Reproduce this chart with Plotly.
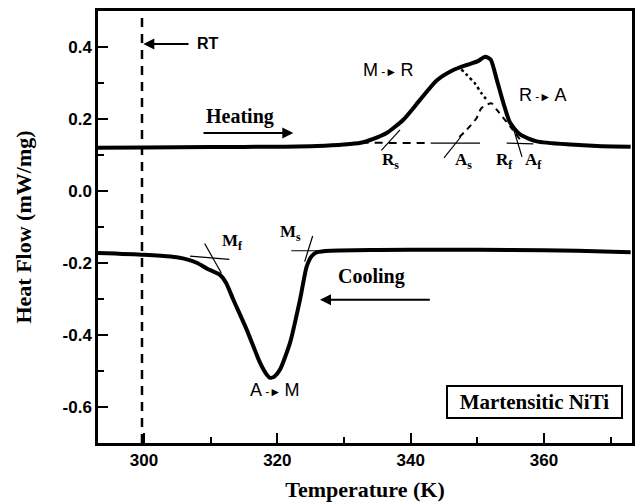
import plotly.graph_objects as go

# ---- data ----
heat_T = [293, 300, 310, 320, 326, 330, 332.5, 334.4, 336.4, 338.9, 341.4, 343.9,
          346.4, 348.4, 350.0, 351.2, 352.0, 352.9, 353.9, 354.9, 356.4, 358.9,
          364, 368, 373]
heat_Q = [0.120, 0.121, 0.122, 0.123, 0.125, 0.129, 0.134, 0.145, 0.161, 0.198, 0.253, 0.307,
          0.336, 0.350, 0.360, 0.373, 0.365, 0.310, 0.245, 0.190, 0.157, 0.138,
          0.129, 0.125, 0.123]

cool_T = [293, 300, 304, 306, 308, 309.4, 311.4, 312.3, 313.4, 315.4, 317.4, 318.4,
          318.9, 319.6, 320.4, 321.9, 323.4, 324.4, 325.2, 326, 328, 335, 345,
          355, 365, 373]
cool_Q = [-0.172, -0.177, -0.182, -0.188, -0.200, -0.215, -0.233, -0.255, -0.302, -0.385,
          -0.477, -0.510, -0.519, -0.515, -0.496, -0.422, -0.302, -0.210, -0.180, -0.170,
          -0.166, -0.164, -0.163, -0.164, -0.166, -0.170]

# deconvolution / construction lines
dotted_T = [347.6, 348.4, 349.6, 350.6, 351.6]
dotted_Q = [0.338, 0.323, 0.300, 0.272, 0.249]
apeak_T = [347.3, 348.4, 349.9, 350.6, 352.1, 352.9, 354.9, 356.4]
apeak_Q = [0.150, 0.170, 0.203, 0.230, 0.244, 0.226, 0.180, 0.143]
base_dash_T = [332.5, 343.0]
base_dash_Q = [0.134, 0.133]
base_solid1_T = [343.0, 350.4]
base_solid1_Q = [0.133, 0.133]
base_solid2_T = [354.4, 358.4]
base_solid2_Q = [0.133, 0.131]
rs_T = [335.6, 338.4]
rs_Q = [0.113, 0.170]
as_T = [345.0, 347.5]
as_Q = [0.092, 0.150]
af_T = [355.5, 356.7]
af_Q = [0.168, 0.095]
mf_h_T = [306.9, 312.8]
mf_h_Q = [-0.181, -0.190]
mf_s_T = [309.1, 311.6]
mf_s_Q = [-0.146, -0.228]
ms_h_T = [322.1, 326.9]
ms_h_Q = [-0.166, -0.166]
ms_s_T = [325.3, 324.1]
ms_s_Q = [-0.125, -0.196]

RT = 299.7
x_ticks = [300, 320, 340, 360]
y_ticks = [0.4, 0.2, 0.0, -0.2, -0.4, -0.6]

fig = go.Figure()

def line(x, y, width=1.2, dash="solid", shape="linear"):
    fig.add_trace(go.Scatter(x=x, y=y, mode="lines", showlegend=False, hoverinfo="skip",
                             line=dict(color="black", width=width, dash=dash, shape=shape,
                                       smoothing=0.6)))

line(heat_T, heat_Q, width=4, shape="spline")
line(cool_T, cool_Q, width=4, shape="spline")
line(dotted_T, dotted_Q, width=2.5, dash="dot", shape="spline")
line(apeak_T, apeak_Q, width=2, dash="6px,5px", shape="spline")
line(base_dash_T, base_dash_Q, width=2, dash="8px,6px")
line(base_solid1_T, base_solid1_Q, width=1.3)
line(base_solid2_T, base_solid2_Q, width=1.3)
for xs, ys in [(rs_T, rs_Q), (as_T, as_Q), (af_T, af_Q), (mf_h_T, mf_h_Q),
               (mf_s_T, mf_s_Q), (ms_h_T, ms_h_Q), (ms_s_T, ms_s_Q)]:
    line(xs, ys, width=1.2)

fig.add_shape(type="line", x0=RT, x1=RT, y0=0, y1=1, xref="x", yref="paper",
              line=dict(color="black", width=2.5, dash="9px,7px"))

sans = "Liberation Sans, Arial, sans-serif"
serif = "Liberation Serif, Times New Roman, serif"

def txt(x, y, s, size=16, fam=sans, bold=False, **kw):
    fig.add_annotation(x=x, y=y, text=s, showarrow=False,
                       font=dict(family=fam, size=size, color="black",
                                 weight="bold" if bold else "normal"), **kw)

def arrow(x0, y0, x1, y1):
    fig.add_annotation(x=x1, y=y1, ax=x0, ay=y0, axref="x", ayref="y", xref="x", yref="y",
                       text="", showarrow=True, arrowhead=2, arrowsize=1.1, arrowwidth=2,
                       arrowcolor="black")

arr = "<span style='font-size:12px'> -► </span>"

txt(309.6, 0.41, "RT", size=16, bold=True)
arrow(306.9, 0.408, 299.9, 0.408)
txt(314.4, 0.207, "Heating", size=20, fam=serif, bold=True)
arrow(308.7, 0.161, 322.4, 0.161)
txt(334.1, -0.238, "Cooling", size=20, fam=serif, bold=True)
arrow(343.1, -0.302, 326.4, -0.302)
txt(336.6, 0.336, "M" + arr + "R", size=18)
txt(359.9, 0.267, "R" + arr + "A", size=18)
txt(319.6, -0.553, "A" + arr + "M", size=18)

txt(337.0, 0.082, "R<sub>s</sub>", size=17, fam=serif, bold=True)
txt(347.9, 0.082, "A<sub>s</sub>", size=17, fam=serif, bold=True)
txt(354.0, 0.082, "R<sub>f</sub>", size=17, fam=serif, bold=True)
txt(358.4, 0.082, "A<sub>f</sub>", size=17, fam=serif, bold=True)
txt(313.2, -0.143, "M<sub>f</sub>", size=17, fam=serif, bold=True)
txt(322.0, -0.117, "M<sub>s</sub>", size=17, fam=serif, bold=True)

fig.add_annotation(x=358.6, y=-0.586, text="Martensitic NiTi", showarrow=False,
                   font=dict(family=serif, size=21, color="black", weight="bold"),
                   width=167, height=24, align="center",
                   bordercolor="black", borderwidth=2, borderpad=3, bgcolor="white")

axis_common = dict(showline=True, linecolor="black", linewidth=2.5, mirror=True,
                   showgrid=False, zeroline=False, ticks="inside", ticklen=10,
                   tickwidth=2, tickcolor="black",
                   tickfont=dict(family=sans, size=17, color="black", weight="bold"))

fig.update_xaxes(range=[293.1, 373.2], tickvals=x_ticks, ticktext=[str(v) for v in x_ticks],
                 minor=dict(ticks="inside", ticklen=6, tickwidth=2, tickcolor="black",
                            tickvals=[310, 330, 350, 370]),
                 title=dict(text="Temperature (K)", standoff=13,
                            font=dict(family=serif, size=22, color="black", weight="bold")),
                 **axis_common)
fig.update_yaxes(range=[-0.7, 0.5], tickvals=y_ticks, ticktext=[f"{v:.1f}" for v in y_ticks],
                 minor=dict(ticks="inside", ticklen=6, tickwidth=2, tickcolor="black",
                            tickvals=[0.3, 0.1, -0.1, -0.3, -0.5]),
                 title=dict(text="Heat Flow (mW/mg)", standoff=25,
                            font=dict(family=serif, size=22, color="black", weight="bold")),
                 **axis_common)

fig.update_layout(width=638, height=504, margin=dict(l=98, r=6, t=11, b=61, autoexpand=False),
                  plot_bgcolor="white", paper_bgcolor="white", showlegend=False)

fig.write_html("out.html", config={"displayModeBar": False},
               post_script="document.body.style.margin='0px';")
